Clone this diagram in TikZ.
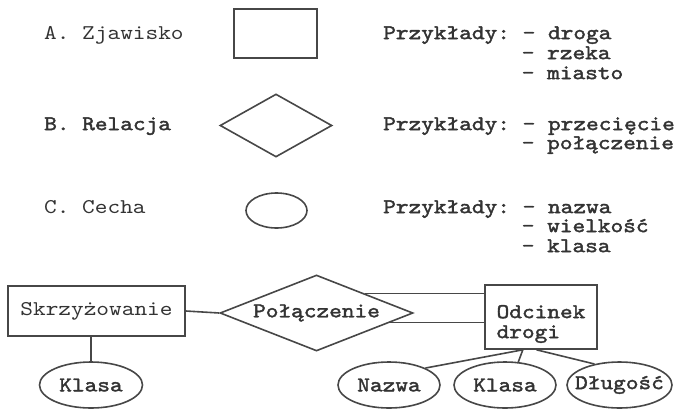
\documentclass[tikz,border=0pt]{standalone}
\usepackage{fontspec}
\setmonofont{lmmono10-regular.otf}[FakeStretch=1.15, AutoFakeBold=1.8]
\usetikzlibrary{shapes.geometric,calc}
\begin{document}
\begin{tikzpicture}[x=1pt,y=-1pt,
  ink/.style={draw=black!72, line width=1.6pt},
  txt/.style={font=\ttfamily\bfseries\fontsize{21}{20}\selectfont, text=black!80, inner sep=0pt},
  thin txt/.style={font=\ttfamily\fontsize{21}{20}\selectfont, text=black!80, inner sep=0pt},
  entity/.style={ink, rectangle, inner sep=0pt},
  relation/.style={ink, diamond, shape aspect=2.5, inner sep=0pt},
  attribute/.style={ink, ellipse, inner sep=0pt},
]
\useasboundingbox (0,0) rectangle (674,410);

% legend: entity / relationship / attribute symbols
\node[thin txt, anchor=mid west] (la) at (44,37) {A.~Zjawisko};
\node[entity, minimum width=83pt, minimum height=49pt] (symA) at (275.5,33.5) {};
\node[txt, anchor=mid west] (exA) at (383,37) {Przykłady:~-~droga};
\node[txt, anchor=mid west] (exA2) at (521.6,57) {-~rzeka};
\node[txt, anchor=mid west] (exA3) at (521.6,77) {-~miasto};

\node[txt, anchor=mid west] (lb) at (44,128) {B.~Relacja};
\node[relation, minimum width=112pt, minimum height=63pt] (symB) at (276,125.5) {};
\node[txt, anchor=mid west] (exB) at (383,128) {Przykłady:~-~przecięcie};
\node[txt, anchor=mid west] (exB2) at (521.6,147) {-~połączenie};

\node[thin txt, anchor=mid west] (lc) at (44,211) {C.~Cecha};
\node[attribute, minimum width=61pt, minimum height=35pt] (symC) at (276.5,210.5) {};
\node[txt, anchor=mid west] (exC) at (383,211) {Przykłady:~-~nazwa};
\node[txt, anchor=mid west] (exC2) at (521.6,230) {-~wielkość};
\node[txt, anchor=mid west] (exC3) at (521.6,250) {-~klasa};

% example schema
\node[entity, thin txt, draw=black!72, minimum width=177pt, minimum height=50pt] (skrz) at (96.5,311) {Skrzyżowanie};
\node[relation, txt, draw=black!72, minimum width=193pt, minimum height=76pt] (pol) at (316.5,313) {Połączenie};
\node[entity, minimum width=112pt, minimum height=64pt,
      label={[txt, align=left, yshift=-7pt]center:Odcinek\\drogi}] (odc) at (541,317) {};

\node[attribute, minimum width=103pt, minimum height=46pt, label={[txt]center:Klasa}] (klasaL) at (91,385) {};
\node[attribute, minimum width=102pt, minimum height=46pt, label={[txt]center:Nazwa}] (nazwa) at (389,385) {};
\node[attribute, minimum width=102pt, minimum height=46pt, label={[txt]center:Klasa}] (klasaR) at (505,385) {};
\node[attribute, minimum width=105pt, minimum height=46pt, label={[txt]center:Długość}] (dlug) at (619.5,385) {};

\draw[ink] (skrz.east) -- (pol.west);
\coordinate (up) at ($(pol.north)!0.5!(pol.east)$);
\coordinate (lo) at ($(pol.east)!0.24!(pol.south)$);
\draw[ink] (up) -- (up -| odc.west);
\draw[ink] (lo) -- (lo -| odc.west);

\draw[ink] (skrz.south -| klasaL.north) -- (klasaL.north);

\coordinate (b1) at ($(odc.south west)!0.34!(odc.south east)$);
\coordinate (b2) at ($(odc.south west)!0.46!(odc.south east)$);
\draw[ink] (b1) -- (nazwa.25);
\draw[ink] (b1) -- (klasaR.60);
\draw[ink] (b2) -- (dlug.140);
\end{tikzpicture}
\end{document}
